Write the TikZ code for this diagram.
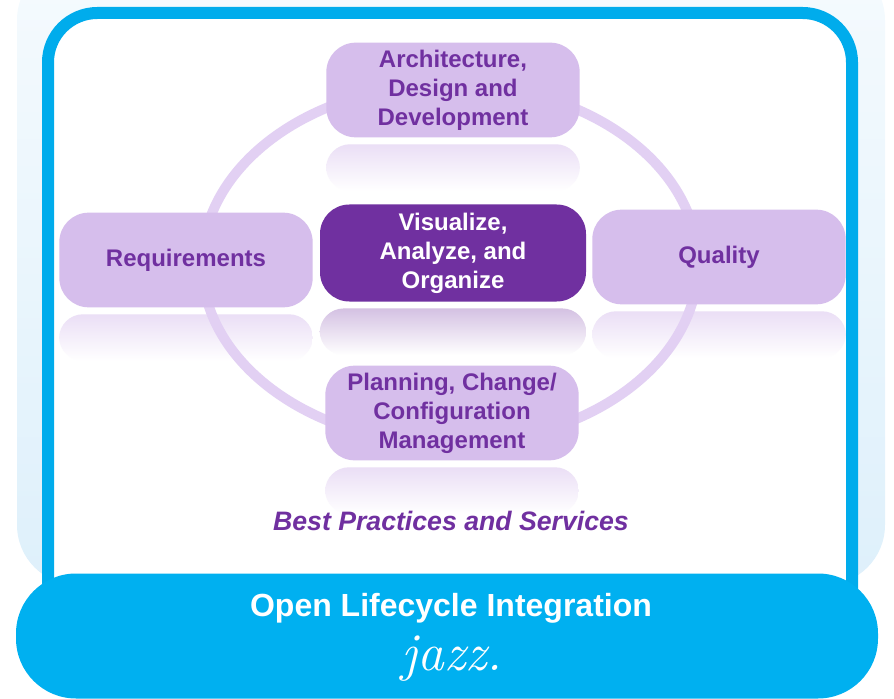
\documentclass[tikz,border=0pt]{standalone}
\usepackage{fontspec}
\setsansfont{Liberation Sans}
\usetikzlibrary{backgrounds}
\usepackage{xcolor}
\definecolor{jazzblue}{RGB}{0,172,236}
\definecolor{barblue}{RGB}{0,176,240}
\definecolor{panelblue}{RGB}{222,240,251}
\definecolor{lcpurple}{RGB}{112,48,160}
\definecolor{lclilac}{RGB}{214,190,236}
\definecolor{lcring}{RGB}{226,208,243}
\def\boxw{190pt}
\def\boxh{71pt}

\begin{document}
\begin{tikzpicture}[x=0.75pt, y=-0.75pt]
    \tikzstyle{phase}=[rectangle, rounded corners=22pt, fill=lclilac, text=lcpurple, minimum width=\boxw, minimum height=\boxh, inner sep=0pt, align=center, font=\sffamily\bfseries\fontsize{18}{21.75}\selectfont]
    \tikzstyle{core phase}=[phase, fill=lcpurple, text=white, minimum width=199.5pt, minimum height=72.75pt]
    \tikzstyle{reflection}=[rounded corners=18pt, top color=lclilac!50!white, bottom color=white]
    \tikzstyle{ring}=[draw=lcring, line width=7.5pt]
    \tikzstyle{frame}=[draw=jazzblue, fill=white, line width=9pt, rounded corners=37pt]
    \tikzstyle{lifecycle bar}=[rectangle, fill=barblue, rounded corners=45pt, minimum width=646.5pt, minimum height=93.75pt, inner sep=0pt]
    \tikzstyle{annot}=[text=lcpurple, font=\sffamily\bfseries\itshape\fontsize{20}{24}\selectfont]

    \useasboundingbox (0,0) rectangle (894,699);

    % Draw the phase nodes round the ring
    \node[phase] (arch) at (453,90) {Architecture,\\Design and\\Development};
    \node[phase] (req) at (186,260) {Requirements};
    \node[core phase] (viz) at (453,253) {Visualize,\\Analyze, and\\Organize};
    \node[phase] (qual) at (719,257) {Quality};
    \node[phase] (plan) at (452,413) {Planning, Change/\\Configuration\\Management};

    \node[annot, anchor=base] (bps) at (451,530) {Best Practices and Services};

    % Draw the integration bar
    \node[lifecycle bar] (bar) at (447,636) {};
    \node[text=white, anchor=base, font=\sffamily\bfseries\fontsize{24}{28}\selectfont] (olc) at (451,616) {Open Lifecycle Integration};
    \node[text=white, anchor=base, font=\rmfamily\itshape\fontsize{40}{40}\selectfont] (jazz) at (452,670) {jazz.};

    \begin{scope}[on background layer]
    % panel and frame behind everything
        \shade[top color=panelblue!30!white, bottom color=panelblue, rounded corners=45pt] (17,-40) rectangle (885,585);
        \draw[frame] (48,13) rectangle (852,640);

    % mirrored glow under each box
        \foreach \name in {arch,req,qual,plan}
            \shade[reflection] ([yshift=-5pt]\name.south west) rectangle ([yshift=-40pt]\name.south east);
        \shade[reflection, top color=lcpurple!30!white] ([yshift=-5pt]viz.south west) rectangle ([yshift=-40pt]viz.south east);

        \draw[ring] (450,264) ellipse [x radius=186pt, y radius=135pt];
    \end{scope}
\end{tikzpicture}
\end{document}
